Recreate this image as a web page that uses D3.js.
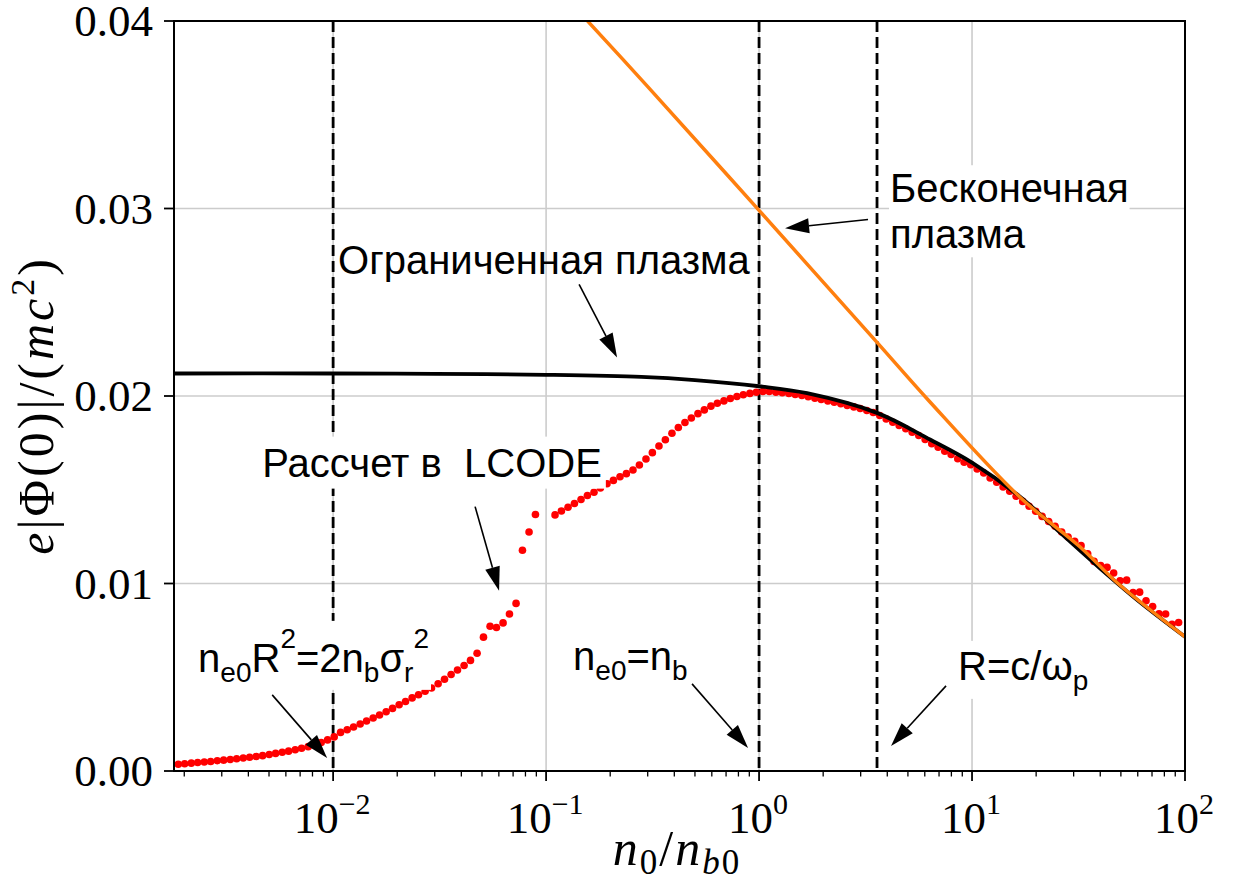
<!DOCTYPE html>
<html><head><meta charset="utf-8">
<script src="https://cdn.jsdelivr.net/npm/d3@7"></script>
<style>body{margin:0;background:#fff}</style>
</head><body>
<svg id="chart" width="1238" height="891"></svg>
<script>
// ---------- DATA ----------
// LCODE simulation points: log10(n0/nb0) and e|Phi(0)|/(mc^2)
const lcodeLog10N = [
 -2.727,-2.697,-2.666,-2.636,-2.605,-2.575,-2.544,-2.514,-2.483,-2.453,
 -2.422,-2.392,-2.361,-2.331,-2.300,-2.270,-2.239,-2.209,-2.178,-2.148,
 -2.117,-2.087,-2.056,-2.026,-1.995,-1.965,-1.934,-1.904,-1.873,-1.843,
 -1.812,-1.782,-1.751,-1.721,-1.690,-1.660,-1.629,-1.599,-1.568,-1.538,
 -1.507,-1.477,-1.446,-1.416,-1.385,-1.355,-1.324,-1.294,-1.263,-1.233,
 -1.202,-1.172,-1.141,-1.111,-1.080,-1.050,
 -0.958,-0.928,
 -0.897,-0.867,-0.836,-0.806,-0.775,-0.745,-0.714,-0.684,-0.653,-0.623,
 -0.592,-0.562,-0.531,-0.501,-0.470,-0.440,-0.409,-0.379,-0.348,-0.318,
 -0.287,-0.257,-0.226,-0.196,-0.165,-0.135,-0.104,-0.074,-0.043,-0.013,
 0.018,0.048,0.079,0.109,0.140,0.170,0.201,0.231,0.262,0.292,
 0.323,0.353,0.384,0.414,0.445,0.475,0.506,0.536,0.567,0.597,
 0.628,0.658,0.689,0.719,0.750,0.780,0.811,0.841,0.872,0.902,
 0.933,0.963,0.994,1.024,1.055,1.085,1.116,1.146,1.177,1.207,
 1.238,1.268,1.299,1.329,1.360,1.390,1.421,1.451,1.482,1.512,
 1.543,1.573,1.604,1.634,1.665,1.695,1.726,1.756,1.787,1.817,
 1.848,1.878,1.909,1.939,1.970
];
const lcodePhi = [
 0.00036,0.00039,0.00042,0.00045,0.00048,0.00051,0.00055,0.00058,0.00061,0.00065,
 0.00069,0.00073,0.00077,0.00082,0.00088,0.00094,0.00100,0.00106,0.00113,0.00121,
 0.00130,0.00140,0.00152,0.00166,0.00182,0.00206,0.00220,0.00235,0.00251,0.00267,
 0.00283,0.00299,0.00316,0.00334,0.00353,0.00371,0.00390,0.00407,0.00425,0.00443,
 0.00465,0.00489,0.00515,0.00539,0.00563,0.00590,0.00628,0.00714,0.00772,0.00765,
 0.00790,0.00837,0.00894,0.01177,0.01275,0.01368,
 0.01366,0.01387,
 0.01407,0.01427,0.01448,0.01469,0.01487,0.01510,0.01532,0.01550,0.01569,0.01586,
 0.01605,0.01632,0.01664,0.01698,0.01733,0.01767,0.01801,0.01832,0.01859,0.01883,
 0.01906,0.01926,0.01946,0.01961,0.01974,0.01987,0.01997,0.02007,0.02014,0.02020,
 0.02024,0.02024,0.02020,0.02017,0.02013,0.02008,0.02003,0.01996,0.01988,0.01981,
 0.01974,0.01967,0.01959,0.01950,0.01942,0.01933,0.01923,0.01912,0.01896,0.01878,
 0.01860,0.01843,0.01825,0.01807,0.01789,0.01768,0.01746,0.01727,0.01705,0.01688,
 0.01665,0.01647,0.01634,0.01611,0.01590,0.01563,0.01540,0.01515,0.01492,0.01465,
 0.01438,0.01412,0.01385,0.01358,0.01331,0.01305,0.01275,0.01248,0.01225,0.01202,
 0.01159,0.01118,0.01096,0.01086,0.01056,0.01015,0.01018,0.00952,0.00954,0.00908,
 0.00877,0.00838,0.00837,0.00783,0.00792
];
// Bounded plasma theory (black)
const boundedN   = [0.00179,0.01,0.03,0.1,0.28,0.5,1,1.68,3.58,6.35,10,16.8,26,40,61.5,100];
const boundedPhi = [0.02120,0.02120,0.02118,0.02113,0.02102,0.02085,0.02052,0.02015,0.0191,0.01768,0.01645,0.01463,0.0127,0.0108,0.0090,0.00716];
// Infinite plasma theory (orange)
const infiniteN   = [0.14,0.3,1,3.58,6.21,16.8,32.1,48.5,100];
const infinitePhi = [0.0406,0.0365,0.0299,0.02286,0.0198,0.0146,0.01196,0.0100,0.00716];
// vertical markers
const markerN = [0.01, 1, 3.58];
// ticks
const xMajorTicks = [0.01,0.1,1,10,100];
const xMajorLabels = ["−2","−1","0","1","2"];
const yTicks = [0,0.01,0.02,0.03,0.04];
const yTickLabels = ["0.00","0.01","0.02","0.03","0.04"];

// ---------- SCALES ----------
const P = {l:174, r:1185, t:21, b:771};
const x = d3.scaleLog().domain([0.00179,100]).range([P.l,P.r]);
const y = d3.scaleLinear().domain([0,0.04]).range([P.b,P.t]);
const svg = d3.select("#chart");
const SERIF = "'Liberation Serif','Times New Roman',serif";
const SANS = "'Liberation Sans',Arial,sans-serif";

svg.append("defs").append("clipPath").attr("id","clip")
  .append("rect").attr("x",P.l).attr("y",P.t).attr("width",P.r-P.l).attr("height",P.b-P.t);

// grid
const grid = svg.append("g").attr("stroke","#cccccc").attr("stroke-width",1.6);
xMajorTicks.forEach(v=>grid.append("line").attr("x1",x(v)).attr("x2",x(v)).attr("y1",P.t).attr("y2",P.b));
yTicks.forEach(v=>grid.append("line").attr("x1",P.l).attr("x2",P.r).attr("y1",y(v)).attr("y2",y(v)));

// dashed markers
svg.append("g").selectAll("line").data(markerN).join("line")
  .attr("x1",d=>x(d)).attr("x2",d=>x(d)).attr("y1",P.t).attr("y2",P.b)
  .attr("stroke","#000").attr("stroke-width",2.8).attr("stroke-dasharray","11,5");

const plotG = svg.append("g").attr("clip-path","url(#clip)");
// dots
const pts = lcodeLog10N.map((l,i)=>({n:Math.pow(10,l), v:lcodePhi[i]}));
plotG.append("g").selectAll("circle").data(pts).join("circle")
  .attr("cx",d=>x(d.n)).attr("cy",d=>y(d.v)).attr("r",3.8).attr("fill","#ff0000");

const line = d3.line().x(d=>x(d[0])).y(d=>y(d[1])).curve(d3.curveCatmullRom.alpha(0.5));
plotG.append("path").datum(boundedN.map((n,i)=>[n,boundedPhi[i]]))
  .attr("d",line).attr("fill","none").attr("stroke","#000").attr("stroke-width",3.8);
plotG.append("path").datum(infiniteN.map((n,i)=>[n,infinitePhi[i]]))
  .attr("d",line).attr("fill","none").attr("stroke","#ff7f0e").attr("stroke-width",3.5);

// frame
svg.append("rect").attr("x",P.l).attr("y",P.t).attr("width",P.r-P.l).attr("height",P.b-P.t)
  .attr("fill","none").attr("stroke","#000").attr("stroke-width",2);

// x axis ticks
const xAxis = svg.append("g");
const minor = [];
[-3,-2,-1,0,1].forEach(e=>{for(let m=2;m<=9;m++){const v=m*Math.pow(10,e); if(v>=x.domain()[0]&&v<=100) minor.push(v);}});
xAxis.selectAll("line.mi").data(minor).join("line").attr("class","mi")
  .attr("x1",d=>x(d)).attr("x2",d=>x(d)).attr("y1",P.b).attr("y2",P.b+5.5).attr("stroke","#000").attr("stroke-width",1.3);
xAxis.selectAll("line.ma").data(xMajorTicks).join("line").attr("class","ma")
  .attr("x1",d=>x(d)).attr("x2",d=>x(d)).attr("y1",P.b).attr("y2",P.b+10).attr("stroke","#000").attr("stroke-width",1.8);

function rich(g, parts, o){
  const t = g.append("text").attr("x",o.x).attr("y",o.y)
    .attr("font-family",o.family).attr("font-size",o.size).attr("fill","#000");
  if(o.anchor) t.attr("text-anchor",o.anchor);
  if(o.transform) t.attr("transform",o.transform);
  if(o.ls) t.attr("letter-spacing",o.ls);
  let cur=0;
  parts.forEach(p=>{
    const off = p.s==="sub"?o.sub:(p.s==="sup"?o.sup:0);
    const ts = t.append("tspan").attr("dy",off-cur).text(p.t);
    if(p.s) ts.attr("font-size",o.small);
    if(p.i) ts.attr("font-style","italic");
    cur=off;
  });
  return t;
}
xMajorTicks.forEach((v,i)=>{
  rich(xAxis,[{t:"10"},{t:xMajorLabels[i],s:"sup"}],
    {x:x(v)-1,y:833,family:SERIF,size:45,small:30,sup:-19,sub:0,anchor:"middle"});
});
// y axis
const yAxis = svg.append("g");
yTicks.forEach((v,i)=>{
  yAxis.append("line").attr("x1",P.l-10).attr("x2",P.l).attr("y1",y(v)).attr("y2",y(v)).attr("stroke","#000").attr("stroke-width",1.8);
  yAxis.append("text").attr("x",P.l-21).attr("y",y(v)+15).attr("text-anchor","end")
    .attr("font-family",SERIF).attr("font-size",45).text(yTickLabels[i]);
});
// axis labels
rich(svg,[{t:"n",i:1},{t:"0",s:"sub"},{t:"/"},{t:"n",i:1},{t:"b",s:"sub",i:1},{t:"0",s:"sub"}],
  {x:677,y:865,family:SERIF,size:50,small:35,sub:9,sup:0,anchor:"middle",ls:2});
rich(svg,[{t:"e",i:1},{t:"|Φ(0)|/("},{t:"mc",i:1},{t:"2",s:"sup"},{t:")"}],
  {x:0,y:0,family:SERIF,size:50,small:34,sub:0,sup:-19,anchor:"middle",ls:3,transform:`translate(53,${y(0.0195)}) rotate(-90)`});

// ---------- ANNOTATIONS ----------
const ann = svg.append("g");
function arrow(from,to){
  const x1=x(from[0]),y1=y(from[1]),x2=x(to[0]),y2=y(to[1]);
  const dx=x2-x1,dy=y2-y1,L=Math.hypot(dx,dy),ux=dx/L,uy=dy/L;
  const hl=24,hw=7.5;
  const bx=x2-ux*hl,by=y2-uy*hl;
  ann.append("line").attr("x1",x1).attr("y1",y1).attr("x2",bx).attr("y2",by).attr("stroke","#000").attr("stroke-width",1.6);
  ann.append("path").attr("d",`M${x2},${y2}L${bx-uy*hw},${by+ux*hw}L${bx+uy*hw},${by-ux*hw}Z`).attr("fill","#000");
}
function boxed(textSel,pad){
  const bb=textSel.node().getBBox();
  textSel.node().parentNode.insertBefore(
    d3.create("svg:rect").attr("x",bb.x-pad).attr("y",bb.y-pad).attr("width",bb.width+2*pad).attr("height",bb.height+2*pad).attr("fill","#fff").node(),
    textSel.node());
}
const aOpt = (n,v)=>({x:x(n),y:y(v),family:SANS,size:40,small:28,sub:10,sup:-24});

// Bounded plasma
rich(ann,[{t:"Ограниченная плазма"}],aOpt(0.01055,0.02649));
arrow([0.1429,0.02595],[0.2154,0.02206]);
// LCODE
const tL = rich(ann,[{t:"Рассчет в\u00A0 LCODE"}],aOpt(0.004645,0.01570));
boxed(tL,4);
arrow([0.04642,0.01410],[0.06015,0.00961]);
// n R^2 = 2 n sigma^2
const tR = rich(ann,[{t:"n"},{t:"e0",s:"sub"},{t:"R"},{t:"2",s:"sup"},{t:"=2n"},{t:"b",s:"sub"},{t:"σ"},{t:"r",s:"sub"},{t:"2",s:"sup"}],aOpt(0.002323,0.005287));
boxed(tR,2);
arrow([0.005176,0.004059],[0.00937,0.000694]);
// n = n_b
const tN = rich(ann,[{t:"n"},{t:"e0",s:"sub"},{t:"=n"},{t:"b",s:"sub"}],aOpt(0.1339,0.005394));
boxed(tN,2);
arrow([0.4845,0.004646],[0.888,0.001228]);
// R = c/omega_p
const tC = rich(ann,[{t:"R=c/ω"},{t:"p",s:"sub"}],aOpt(8.597,0.00486));
boxed(tC,3);
arrow([7.55,0.00454],[4.165,0.001335]);
// Infinite plasma (two lines)
const tI = ann.append("text").attr("font-family",SANS).attr("font-size",40);
tI.append("tspan").attr("x",x(4.121)).attr("y",y(0.030334)).text("Бесконечная");
tI.append("tspan").attr("x",x(4.121)).attr("y",y(0.027877)).text("плазма");
boxed(tI,1);
arrow([3.249,0.02941],[1.3245,0.02895]);
</script>
</body></html>
